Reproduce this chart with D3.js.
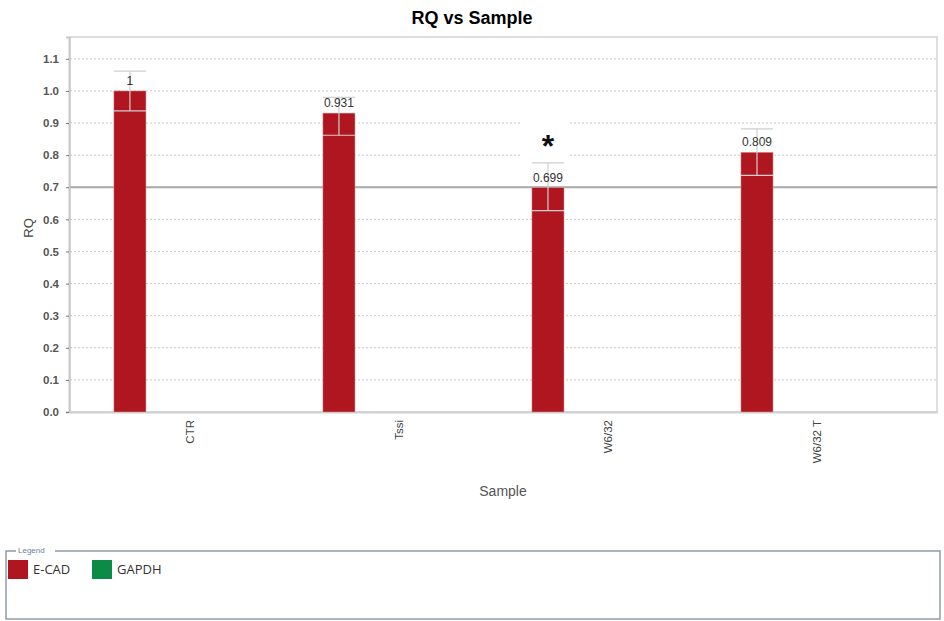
<!DOCTYPE html>
<html>
<head>
<meta charset="utf-8">
<script src="https://cdn.jsdelivr.net/npm/d3@7"></script>
<style>
  body { margin: 0; background: #fff; }
  text { font-family: "Liberation Sans", Arial, sans-serif; }
</style>
</head>
<body>
<div id="chart"></div>
<script>
// Data
const samples = ['CTR', 'Tssi', 'W6/32', 'W6/32 T']
const series = ['E-CAD', 'GAPDH']
const rqEcad = [1, 0.931, 0.699, 0.809]
const rqGapdh = [0, 0, 0, 0]
const rqMax = [1.062, 0.98, 0.776, 0.882]
const rqMin = [0.938, 0.862, 0.627, 0.737]
const labels = ['1', '0.931', '0.699', '0.809']
const yTicks = [0, 0.1, 0.2, 0.3, 0.4, 0.5, 0.6, 0.7, 0.8, 0.9, 1.0, 1.1]
const threshold = 0.7
const colors = ['#b0161f', '#0b8b45']

const dimensions = {
  width: 944,
  height: 621,
  left: 70,
  top: 37,
  right: 937,
  bottom: 412
}

const svg = d3.select('#chart')
  .append('svg')
  .attr('width', dimensions.width)
  .attr('height', dimensions.height)

// Scales
const xScale = d3.scaleBand()
  .domain(samples)
  .range([dimensions.left, dimensions.right])
  .paddingInner(0)
  .paddingOuter(0.074)

const bw = xScale.bandwidth()
const xSub = d3.scaleBand()
  .domain(series)
  .range([bw * 0.136, bw * 0.443])

const yScale = d3.scaleLinear()
  .domain([0, 1.168])
  .range([dimensions.bottom, dimensions.top])

// Title
svg.append('text')
  .attr('x', 472)
  .attr('y', 24)
  .attr('text-anchor', 'middle')
  .style('font-size', '18px')
  .style('font-weight', 'bold')
  .text('RQ vs Sample')

// plot frame
svg.append('rect')
  .attr('x', dimensions.left)
  .attr('y', dimensions.top)
  .attr('width', dimensions.right - dimensions.left)
  .attr('height', dimensions.bottom - dimensions.top)
  .attr('fill', 'none')
  .attr('stroke', '#d4d4d4')
  .attr('stroke-width', 1.5)

// grid
svg.append('g')
  .selectAll('line')
  .data(yTicks.slice(1))
  .join('line')
  .attr('x1', dimensions.left)
  .attr('x2', dimensions.right)
  .attr('y1', d => yScale(d))
  .attr('y2', d => yScale(d))
  .attr('stroke', '#c8c8c8')
  .attr('stroke-dasharray', '2,2')

// threshold line
svg.append('line')
  .attr('x1', dimensions.left)
  .attr('x2', dimensions.right)
  .attr('y1', yScale(threshold))
  .attr('y2', yScale(threshold))
  .attr('stroke', '#a8a8a8')
  .attr('stroke-width', 2)

// y axis
const yAxis = d3.axisLeft(yScale)
  .tickValues(yTicks)
  .tickFormat(d3.format('.1f'))
  .tickSize(3)
  .tickPadding(7)

const yAxisGroup = svg.append('g')
  .attr('transform', `translate(${dimensions.left - 1}, 0)`)
  .call(yAxis)
yAxisGroup.select('.domain').attr('stroke', '#c8c8c8').attr('stroke-width', 2)
yAxisGroup.selectAll('.tick line').attr('stroke', '#777')
yAxisGroup.selectAll('.tick text')
  .attr('fill', '#555')
  .style('font-size', '11.5px')
  .style('font-weight', 'bold')

// x axis
const xAxis = d3.axisBottom(xScale).tickSize(0).tickPadding(8).tickSizeOuter(0)
const xAxisGroup = svg.append('g')
  .attr('transform', `translate(0, ${dimensions.bottom})`)
  .call(xAxis)
xAxisGroup.select('.domain').attr('stroke', '#cfcfcf').attr('stroke-width', 2)
xAxisGroup.selectAll('.tick text')
  .attr('transform', 'rotate(-90)')
  .attr('text-anchor', 'end')
  .attr('x', -8)
  .attr('y', 0)
  .attr('dy', '0.35em')
  .attr('fill', '#444')
  .style('font-size', '11.5px')

// bars
const rows = samples.map((s, i) => ({ sample: s, values: [rqEcad[i], rqGapdh[i]], i }))
const groups = svg.append('g')
  .selectAll('g')
  .data(rows)
  .join('g')
  .attr('transform', d => `translate(${xScale(d.sample)}, 0)`)

groups.selectAll('rect')
  .data(d => d.values.map((v, k) => ({ key: series[k], value: v })))
  .join('rect')
  .attr('x', d => xSub(d.key))
  .attr('width', xSub.bandwidth())
  .attr('y', d => yScale(d.value))
  .attr('height', d => yScale(0) - yScale(d.value))
  .attr('fill', (d, k) => colors[k])
  .attr('stroke', '#e0a0a0')
  .attr('stroke-width', 0.5)

// error bars
const errG = groups.append('g')
  .attr('stroke', '#cfcfcf')
  .attr('stroke-width', 1.2)
errG.append('line')
  .attr('x1', xSub('E-CAD') + xSub.bandwidth() / 2)
  .attr('x2', xSub('E-CAD') + xSub.bandwidth() / 2)
  .attr('y1', d => yScale(rqMax[d.i]))
  .attr('y2', d => yScale(rqMin[d.i]))
errG.append('line')
  .attr('x1', xSub('E-CAD'))
  .attr('x2', xSub('E-CAD') + xSub.bandwidth())
  .attr('y1', d => yScale(rqMax[d.i]))
  .attr('y2', d => yScale(rqMax[d.i]))
errG.append('line')
  .attr('x1', xSub('E-CAD'))
  .attr('x2', xSub('E-CAD') + xSub.bandwidth())
  .attr('y1', d => yScale(rqMin[d.i]))
  .attr('y2', d => yScale(rqMin[d.i]))

// value labels
groups.append('text')
  .attr('x', xSub('E-CAD') + xSub.bandwidth() / 2)
  .attr('y', d => yScale(rqEcad[d.i]) - 6)
  .attr('text-anchor', 'middle')
  .attr('fill', '#333')
  .style('font-size', '12px')
  .text(d => labels[d.i])

// asterisk for W6/32
const starX = xScale('W6/32') + xSub('E-CAD') + xSub.bandwidth() / 2
svg.append('rect')
  .attr('x', starX - 26)
  .attr('y', yScale(0.92))
  .attr('width', 46)
  .attr('height', yScale(0.78) - yScale(0.92))
  .attr('fill', '#fff')
svg.append('text')
  .attr('x', starX)
  .attr('y', yScale(0.795))
  .attr('text-anchor', 'middle')
  .style('font-size', '32px')
  .style('font-weight', 'bold')
  .attr('fill', '#111')
  .text('*')

// axis labels
svg.append('text')
  .attr('x', 503)
  .attr('y', 496)
  .attr('text-anchor', 'middle')
  .attr('fill', '#555')
  .style('font-size', '14px')
  .text('Sample')

svg.append('text')
  .attr('transform', 'rotate(-90)')
  .attr('x', -228)
  .attr('y', 33)
  .attr('text-anchor', 'middle')
  .attr('fill', '#444')
  .style('font-size', '13px')
  .text('RQ')

// Legend
const legend = svg.append('g')
legend.append('path')
  .attr('d', 'M 16 551 L 6 551 L 6 619 L 940 619 L 940 551 L 55 551')
  .attr('fill', 'none')
  .attr('stroke', '#8d9cab')
  .attr('stroke-width', 1.5)
legend.append('text')
  .attr('x', 18)
  .attr('y', 553)
  .attr('fill', '#6b7f99')
  .style('font-size', '8px')
  .text('Legend')

const legendX = [8, 92]
const legendItems = legend.selectAll('g.item')
  .data(series)
  .join('g')
  .attr('class', 'item')
  .attr('transform', (d, k) => `translate(${legendX[k]}, 560)`)
legendItems.append('rect')
  .attr('width', 20)
  .attr('height', 19)
  .attr('fill', (d, k) => colors[k])
legendItems.append('text')
  .attr('x', 25)
  .attr('y', 14)
  .attr('fill', '#333')
  .style('font-size', '13px')
  .style('font-family', '"Open Sans", sans-serif')
  .text(d => d)
</script>
</body>
</html>
